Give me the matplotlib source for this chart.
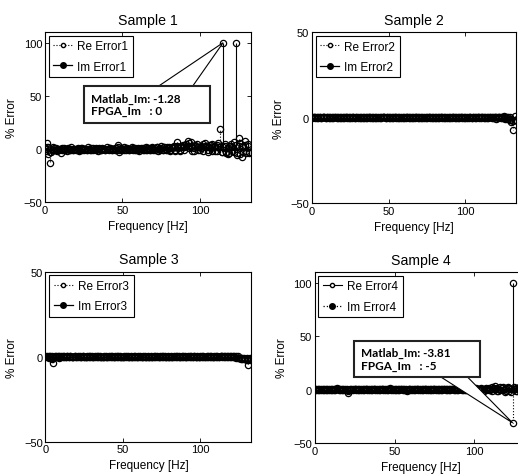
import numpy as np
import matplotlib
matplotlib.use("Agg")
import matplotlib.pyplot as plt
from matplotlib.lines import Line2D
from matplotlib.patches import Polygon
from matplotlib.legend_handler import HandlerLine2D

plt.rcParams["font.family"] = ["Liberation Sans", "DejaVu Sans"]
plt.rcParams["font.size"] = 8.5
plt.rcParams["xtick.labelsize"] = 8
plt.rcParams["ytick.labelsize"] = 8

# frequency bins [Hz]
freq = np.arange(133)

# Sample 1
re1 = [1.5, 6, -5, -13, -3, 2, -1, 1, -2, 0.5,
       -4, 1, -1, 0.5, -1.5, 1, -0.5, 1.5, -1, 0.5,
       -1, 1, -1.5, 0.5, 1, -1, 0.5, -1, 1.5, -0.5,
       1, -1, 0.5, 1, -1.5, 0.5, -1, 1, 0.5, -1,
       1.5, -0.5, 1, -1, 0.5, 1, -1, 3.5, -2.5, 1,
       -1, 1.5, -0.5, 1, -1, 0.5, 1.5, -1, 1, -0.5,
       1, -1.5, 0.5, 1, -1, 1.5, -0.5, 1, -1, 2,
       -1, 1, 2, -1.5, 1, 2.5, -1, 1.5, -0.5, 2,
       1, -1.5, 2, 3, -1, 7, 2, -2, 3, 4,
       2, 5, 8, 6, 7, 3, -2, 4, 5, 2,
       -1, 3, 5, 6, 2, -3, 4, 1, 5, 3,
       -2, 4, 6, 19, -3, 2, 5, -4, -5, 3,
       5, -2, 7, 4, -6, 10, 6, -7, 3, 8,
       -4, 5, -3]
im1 = [0.5, -2, 1.5, -3, 0.5, -1, 1, -0.5, 0.5, -1,
       0.5, -0.5, 1, -0.5, 0.5, 0, -0.5, 0.5, -1, 0.5,
       0, 0.5, -0.5, 1, -0.5, 0.5, 0, -1, 0.5, 0.5,
       -0.5, 1, 0, -0.5, 0.5, 1, -0.5, 0, 0.5, -1,
       0.5, 0, 1, -0.5, 0.5, -0.5, 1, 1.5, -1, 0.5,
       0, -0.5, 1, 0.5, -1, 0.5, 0, 1, -0.5, 0.5,
       -1, 0.5, 1, -0.5, 0.5, -1, 1, 0.5, -0.5, 1,
       0.5, -1, 1.5, 0.5, -0.5, 1, -1, 1.5, 0.5, -1,
       1.5, -0.5, 1, 2, -1.5, 2.5, 1, -1, 2, 1.5,
       -1, 2.5, 3, 1, 2, -1.5, 1, 3, 2, -1,
       2, 1, -2, 3, 1.5, -1, 2, 4, -1.5, 2,
       3, -2, 1.5, 2, -3, 100, 2.5, -3, 1, -4,
       3, 2, -3, 100, -4, 3, -5, 2, -3, 4,
       -2, 3, -4]

# Sample 2
re2 = [0.5, 0.3, -0.4, 0.6, -0.3, 0.2, -0.5, 0.4, 0.1, -0.3,
       0.3, -0.2, 0.5, -0.4, 0.2, 0.3, -0.3, 0.1, -0.2, 0.4,
       -0.3, 0.2, 0.4, -0.2, 0.1, -0.4, 0.3, 0.2, -0.3, 0.1,
       0.2, -0.3, 0.4, -0.1, 0.3, -0.2, 0.1, 0.3, -0.4, 0.2,
       -0.1, 0.3, -0.2, 0.4, -0.3, 0.1, 0.2, 0.5, -0.3, 0.1,
       0.3, -0.2, 0.1, -0.4, 0.2, 0.3, -0.1, 0.2, -0.3, 0.1,
       -0.2, 0.3, 0.1, -0.3, 0.2, -0.1, 0.4, -0.2, 0.1, 0.3,
       -0.3, 0.2, -0.1, 0.3, -0.2, 0.1, 0.2, -0.3, 0.1, -0.2,
       0.3, -0.1, 0.2, -0.4, 0.1, 0.3, -0.2, 0.2, -0.1, 0.3,
       -0.2, 0.1, 0.3, -0.3, 0.2, -0.1, 0.2, 0.4, -0.2, 0.1,
       0.3, -0.3, 0.2, 0.1, -0.2, 0.4, -0.1, 0.2, 0.5, -0.3,
       0.2, 0.6, -0.4, 0.3, -0.2, 0.5, 0.3, -0.5, 0.4, 0.2,
       -0.6, 0.5, 0.3, -0.4, 0.6, -0.5, 0.4, -0.8, 0.5, -1.2,
       -2.5, -7.4, -1.5]
im2 = [-0.3, 0.4, 0.2, -0.3, 0.1, 0.3, -0.2, 0.1, 0.3, -0.1,
       0.2, 0.1, -0.3, 0.2, -0.1, 0.2, 0.3, -0.2, 0.1, -0.1,
       0.2, -0.3, 0.1, 0.2, -0.2, 0.1, -0.1, 0.3, -0.2, 0.2,
       -0.1, 0.2, -0.3, 0.1, -0.1, 0.3, -0.2, 0.1, 0.2, -0.1,
       0.3, -0.2, 0.1, -0.1, 0.2, -0.3, 0.1, 0.2, -0.1, 0.3,
       -0.1, 0.2, -0.2, 0.1, 0.3, -0.1, 0.2, -0.2, 0.1, -0.3,
       0.2, -0.1, 0.3, 0.1, -0.2, 0.2, -0.1, 0.1, 0.3, -0.2,
       0.1, -0.2, 0.2, -0.1, 0.3, -0.2, 0.1, 0.2, -0.3, 0.1,
       -0.1, 0.2, -0.3, 0.1, 0.2, -0.1, 0.3, -0.2, 0.1, -0.2,
       0.2, -0.1, 0.1, 0.3, -0.2, 0.2, -0.3, 0.1, 0.2, -0.1,
       -0.2, 0.3, -0.1, 0.2, -0.3, 0.1, 0.2, -0.2, 0.3, 0.1,
       -0.3, 0.2, 0.4, -0.2, 0.3, -0.4, 0.2, 0.5, -0.3, 0.4,
       0.3, -0.5, 0.6, 0.2, -0.4, 0.7, -0.6, 0.5, -0.9, 0.6,
       -1.4, -2.2, 0.8]

# Sample 3
re3 = [-0.4, 0.3, -0.6, 0.2, -1.2, -3.5, 0.4, -0.3, 0.2, -0.5,
       0.3, -0.2, 0.6, -0.1, 0.2, -0.3, 0.4, 0.1, -0.2, 0.3,
       -0.1, 0.2, -0.3, 0.1, 0.2, -0.2, 0.1, 0.3, -0.1, 0.2,
       -0.3, 0.1, 0.2, -0.1, 0.3, -0.2, 0.1, -0.1, 0.2, 0.1,
       -0.2, 0.3, -0.1, 0.2, -0.2, 0.1, 0.3, -0.1, 0.2, -0.2,
       0.1, 0.2, -0.1, 0.3, -0.2, 0.1, -0.1, 0.2, 0.1, -0.2,
       0.2, -0.1, 0.1, 0.2, -0.3, 0.1, 0.2, -0.1, 0.1, -0.2,
       0.3, -0.1, 0.2, -0.2, 0.1, 0.2, -0.1, 0.3, -0.2, 0.1,
       -0.1, 0.2, -0.2, 0.1, 0.3, -0.1, 0.2, -0.2, 0.1, 0.2,
       -0.3, 0.1, 0.2, -0.1, 0.2, -0.2, 0.3, 0.1, -0.2, 0.1,
       0.2, -0.1, 0.3, -0.2, 0.1, 0.2, -0.3, 0.1, -0.1, 0.2,
       0.4, -0.2, 0.1, 0.3, -0.3, 0.2, -0.1, 0.4, -0.2, 0.3,
       -0.4, 0.2, -0.3, 0.4, -0.5, -0.8, -1.2, -0.6, -1.5, -1.1,
       -1.8, -5.0, -1.3]
im3 = [0.3, -0.2, 0.4, -0.3, 0.2, -0.8, 0.1, 0.3, -0.2, 0.2,
       -0.1, 0.4, -0.2, 0.1, 0.2, -0.1, 0.2, -0.3, 0.1, 0.2,
       0.1, -0.2, 0.2, -0.1, 0.3, 0.1, -0.2, 0.1, 0.2, -0.1,
       0.2, 0.1, -0.2, 0.3, -0.1, 0.2, -0.2, 0.1, -0.1, 0.2,
       0.1, -0.1, 0.2, -0.2, 0.1, 0.3, -0.1, 0.2, 0.1, -0.1,
       -0.2, 0.1, 0.2, -0.1, 0.1, 0.2, -0.2, 0.1, 0.3, -0.1,
       0.1, 0.2, -0.1, 0.1, 0.2, -0.2, 0.1, -0.1, 0.2, 0.1,
       -0.2, 0.2, 0.1, -0.1, 0.2, -0.1, 0.3, -0.2, 0.1, 0.2,
       0.1, -0.2, 0.1, 0.2, -0.1, 0.2, -0.1, 0.1, 0.3, -0.2,
       0.2, -0.1, 0.1, 0.2, -0.2, 0.1, 0.2, -0.1, 0.3, -0.2,
       -0.1, 0.2, -0.2, 0.1, 0.2, -0.1, 0.2, 0.3, -0.2, 0.1,
       -0.2, 0.3, -0.1, 0.2, 0.4, -0.2, 0.3, -0.3, 0.2, -0.4,
       0.3, -0.3, 0.4, -0.6, 0.3, -0.9, -0.5, -1.1, -0.7, -1.4,
       -0.9, -2.0, -0.6]

# Sample 4
re4 = [0.6, -0.8, 0.4, -0.5, 0.7, -0.3, 0.5, -0.6, 0.3, 0.8,
       -0.4, 0.6, -0.7, 0.3, 1.2, -0.5, 0.4, -0.3, 0.6, -0.8,
       0.3, -3.0, 0.5, -0.6, 0.4, 0.7, -0.5, 0.3, -0.4, 0.6,
       -0.3, 0.5, 0.8, -0.6, 0.4, -0.5, 0.3, 0.6, -0.4, 0.7,
       -0.6, 0.4, 0.5, -0.3, 0.6, -0.7, 0.4, 1.8, -0.5, 0.3,
       0.6, -0.4, 0.5, -0.8, 0.3, 0.7, -0.5, 0.4, -1.5, 0.6,
       -0.3, 0.5, -0.6, 0.4, 0.8, -0.5, 0.3, -0.7, 0.6, 0.4,
       -0.5, 0.7, -0.3, 0.5, -0.6, 0.4, 0.8, -0.4, 0.6, -0.5,
       0.3, 0.7, -0.6, 0.4, -0.3, 0.6, 0.9, -0.5, 0.4, -0.7,
       0.5, 1.0, -0.4, 0.6, -0.8, 0.7, 0.4, -0.6, 1.1, 0.5,
       -0.7, 1.2, 0.6, -0.5, 1.4, 0.8, -0.9, 1.6, 0.7, 1.3,
       -0.8, 2.0, 1.2, 3.0, 1.5, -1.0, 2.2, 1.4, 2.6, -1.8,
       1.8, 2.4, 1.6, -2.0, 100, 2.5, 1.8, -1.5, 2.2, 1.6,
       -1.2, 2.0, 1.4]
im4 = [-0.3, 0.4, -0.2, 0.3, -0.4, 0.2, -0.3, 0.4, -0.1, -0.4,
       0.3, -0.2, 0.4, -0.3, 0.5, 0.2, -0.4, 0.3, -0.2, 0.4,
       -0.3, -1.2, -0.2, 0.3, -0.4, 0.2, 0.3, -0.2, 0.4, -0.3,
       0.2, -0.4, 0.3, 0.2, -0.3, 0.4, -0.2, 0.3, 0.2, -0.4,
       0.3, -0.2, 0.4, 0.2, -0.3, 0.4, -0.2, 0.8, 0.3, -0.4,
       -0.2, 0.3, -0.4, 0.2, 0.4, -0.3, 0.2, -0.4, -0.6, 0.3,
       0.2, -0.4, 0.3, -0.2, 0.4, 0.3, -0.2, 0.4, -0.3, 0.2,
       0.4, -0.3, 0.2, -0.4, 0.3, 0.2, -0.3, 0.5, -0.2, 0.3,
       -0.4, 0.3, 0.2, -0.5, 0.4, -0.3, 0.5, 0.2, -0.4, 0.3,
       -0.5, 0.4, 0.3, -0.6, 0.5, -0.4, 0.3, 0.6, -0.5, 0.4,
       0.3, -0.6, 0.5, 0.4, -0.7, 0.6, 0.5, -0.8, 0.6, -0.5,
       0.7, -0.9, 0.8, 0.6, -1.0, 0.9, -0.7, 1.1, -0.8, 1.0,
       -0.9, 1.2, -1.1, 0.8, -31.2, 1.0, -1.2, 0.9, -0.8, 1.1,
       -0.7, 0.9, -0.6]

titles = ["Sample 1", "Sample 2", "Sample 3", "Sample 4"]
series = [(re1, im1), (re2, im2), (re3, im3), (re4, im4)]
ylims = [(-50, 110), (-50, 50), (-50, 50), (-50, 110)]
yticks = [[-50, 0, 50, 100], [-50, 0, 50], [-50, 0, 50], [-50, 0, 50, 100]]
# line style of (Re, Im) stems in each panel
styles = [(":", "-"), (":", "-"), (":", "-"), ("-", ":")]
positions = [[0.0869, 0.5738, 0.3977, 0.357],
             [0.6023, 0.5723, 0.394, 0.358],
             [0.0878, 0.0719, 0.3977, 0.3564],
             [0.6075, 0.0692, 0.41, 0.358]]


class EndMarker(HandlerLine2D):
    # matlab style legend: marker sits at the right end of the line
    def get_xdata(self, legend, xdescent, ydescent, width, height, fontsize):
        xdata = np.array([-xdescent, -xdescent + width])
        return xdata, np.array([-xdescent + width])


def draw_stem(ax, y, ls):
    ml, sl, bl = ax.stem(freq, y, linefmt="k" + ls, markerfmt="ko", basefmt="k-")
    ml.set_markersize(4.5)
    ml.set_markerfacecolor("none")
    ml.set_markeredgewidth(0.9)
    sl.set_linewidth(0.8)
    bl.set_linewidth(1.0)


def datatip(ax, x, y, text, center, base):
    # matlab-like datatip: white box with a pointer to the data point
    tip = ax.transAxes.inverted().transform(ax.transData.transform((x, y)))
    pts = [(base[0], base[2]), (base[1], base[2]), tuple(tip)]
    ax.add_patch(Polygon(pts, closed=True, transform=ax.transAxes, fc="w", ec="k",
                         lw=0.8, zorder=9, clip_on=False))
    ax.text(center[0], center[1], text, transform=ax.transAxes, ha="center", va="center",
            multialignment="left", fontfamily="Lato", fontweight="bold", fontsize=8.5,
            linespacing=1.15, zorder=10,
            bbox=dict(boxstyle="square,pad=0.55", fc="w", ec="#222222", lw=1.5))


fig = plt.figure(figsize=(5.18, 4.77), dpi=100)
axes = []
for i in range(4):
    ax = fig.add_axes(positions[i])
    re, im = series[i]
    ls_re, ls_im = styles[i]
    draw_stem(ax, re, ls_re)
    draw_stem(ax, im, ls_im)
    ax.set_xlim(0, 133)
    ax.set_ylim(*ylims[i])
    ax.set_xticks([0, 50, 100])
    ax.set_yticks(yticks[i])
    ax.tick_params(direction="in", top=True, right=True, length=3, width=0.6, pad=2)
    for s in ax.spines.values():
        s.set_linewidth(0.8)
    ax.set_title(titles[i], pad=6)
    ax.set_xlabel("Frequency [Hz]", labelpad=3.5)
    ax.set_ylabel("% Error", labelpad=4)
    n = i + 1
    handles = [Line2D([], [], color="k", ls=ls_re, lw=0.8, marker="o", ms=3, mfc="w"),
               Line2D([], [], color="k", ls=ls_im, lw=0.9, marker="o", ms=4, mfc="k")]
    leg = ax.legend(handles, ["Re Error%d" % n, "Im Error%d" % n], loc="upper left",
                    fancybox=False, edgecolor="k", framealpha=1, borderaxespad=0.3,
                    handlelength=1.6, handletextpad=0.45, labelspacing=0.7, borderpad=0.4,
                    handler_map={Line2D: EndMarker(numpoints=1)})
    leg.get_frame().set_linewidth(0.8)
    axes.append(ax)

k1 = 115
datatip(axes[0], freq[k1], im1[k1], "Matlab_Im: -1.28        \nFPGA_Im   : 0",
        center=(0.495, 0.574), base=(0.524, 0.704, 0.66))
k4 = 124
datatip(axes[3], freq[k4], im4[k4], "Matlab_Im: -3.81        \nFPGA_Im   : -5",
        center=(0.483, 0.492), base=(0.552, 0.693, 0.42))

fig.savefig("out.png", dpi=100)
